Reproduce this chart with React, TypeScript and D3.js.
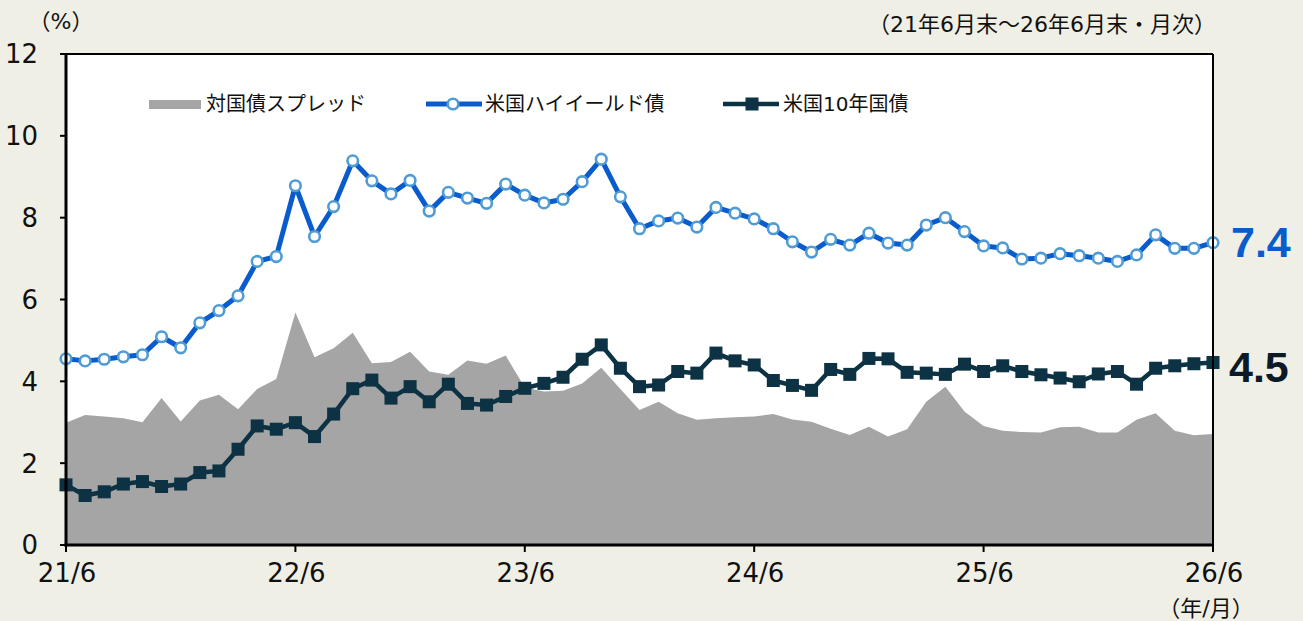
import React, { useEffect } from 'react';
import * as d3 from 'd3';

// monthly, 21/6 .. 26/6 (61 points)
const xTickLabels = ['21/6', '22/6', '23/6', '24/6', '25/6', '26/6'];
const yTicks = [0, 2, 4, 6, 8, 10, 12];

const highYield = [
  4.55, 4.50, 4.54, 4.60, 4.65, 5.09, 4.82, 5.43, 5.73, 6.09, 6.93, 7.05,
  8.78, 7.54, 8.27, 9.39, 8.90, 8.58, 8.91, 8.16, 8.62, 8.48, 8.35, 8.82,
  8.55, 8.36, 8.45, 8.88, 9.43, 8.51, 7.73, 7.92, 7.99, 7.77, 8.25, 8.11,
  7.97, 7.73, 7.41, 7.16, 7.47, 7.33, 7.62, 7.38, 7.33, 7.82, 8.00, 7.66,
  7.31, 7.26, 6.99, 7.01, 7.12, 7.07, 7.01, 6.93, 7.09, 7.58, 7.25, 7.25,
  7.39,
];

const treasury10y = [
  1.47, 1.21, 1.30, 1.49, 1.55, 1.43, 1.49, 1.77, 1.81, 2.34, 2.91, 2.83,
  2.99, 2.65, 3.20, 3.82, 4.03, 3.59, 3.87, 3.50, 3.93, 3.46, 3.42, 3.63,
  3.83, 3.95, 4.10, 4.54, 4.89, 4.32, 3.87, 3.91, 4.24, 4.20, 4.69, 4.50,
  4.40, 4.02, 3.90, 3.78, 4.29, 4.17, 4.56, 4.55, 4.22, 4.20, 4.17, 4.42,
  4.24, 4.38, 4.24, 4.16, 4.08, 3.99, 4.18, 4.24, 3.93, 4.32, 4.38, 4.43,
  4.46,
];

const spread = [
  2.99, 3.18, 3.14, 3.10, 3.00, 3.59, 3.02, 3.53, 3.67, 3.32, 3.81, 4.06,
  5.68, 4.59, 4.81, 5.19, 4.44, 4.47, 4.72, 4.24, 4.16, 4.51, 4.43, 4.63,
  3.85, 3.75, 3.77, 3.95, 4.33, 3.81, 3.30, 3.50, 3.22, 3.06, 3.10, 3.12,
  3.14, 3.20, 3.07, 3.01, 2.84, 2.69, 2.89, 2.65, 2.83, 3.50, 3.87, 3.26,
  2.91, 2.79, 2.76, 2.75, 2.88, 2.89, 2.75, 2.75, 3.06, 3.22, 2.79, 2.68,
  2.71,
];

const W = 1303;
const H = 621;
const BG = '#f0efe5';
const HY_LINE = '#0a5ccc';
const HY_MARK = '#4f9bd6';
const TSY = '#0c3244';
const GRAY = '#a5a5a5';
const FONT = '"DejaVu Sans", "Noto Sans CJK JP", sans-serif';

const App: React.FC = () => {
  useEffect(() => {
    document.body.style.margin = '0';
  }, []);

  const left = 66, right = 1213, top = 54, bottom = 545;
  const x = d3.scaleLinear().domain([0, 60]).range([left, right]);
  const y = d3.scaleLinear().domain([0, 12]).range([bottom, top]);

  const area = d3.area<number>()
    .x((d, i) => x(i))
    .y0(y(0))
    .y1(d => y(d));
  const line = d3.line<number>()
    .x((d, i) => x(i))
    .y(d => y(d));

  const sq = 13;

  return (
    <svg width={W} height={H} style={{ display: 'block', background: BG }} fontFamily={FONT}>
      <rect x={0} y={0} width={W} height={H} fill={BG} />
      <rect x={left} y={top} width={right - left} height={bottom - top} fill="#fff" />

      <path d={area(spread) || ''} fill={GRAY} />

      <path d={line(treasury10y) || ''} fill="none" stroke={TSY} strokeWidth={4.5} strokeLinejoin="round" />
      {treasury10y.map((d, i) => (
        <rect key={'t' + i} x={x(i) - sq / 2} y={y(d) - sq / 2} width={sq} height={sq} fill={TSY} />
      ))}

      <path d={line(highYield) || ''} fill="none" stroke={HY_LINE} strokeWidth={5} strokeLinejoin="round" />
      {highYield.map((d, i) => (
        <circle key={'h' + i} cx={x(i)} cy={y(d)} r={5.3} fill="#fff" stroke={HY_MARK} strokeWidth={2.6} />
      ))}

      {/* frame */}
      <line x1={left} x2={right} y1={top} y2={top} stroke="#000" strokeWidth={2} />
      <line x1={right} x2={right} y1={top} y2={bottom} stroke="#000" strokeWidth={2} />
      <line x1={left} x2={left} y1={top - 1} y2={bottom + 1.5} stroke="#000" strokeWidth={3} />
      <line x1={left - 1.5} x2={right + 1} y1={bottom} y2={bottom} stroke="#000" strokeWidth={3} />

      {yTicks.map(t => (
        <g key={'y' + t}>
          <line x1={left - 6} x2={left} y1={y(t)} y2={y(t)} stroke="#000" strokeWidth={2} />
          <text x={38} y={y(t)} dy="0.36em" textAnchor="end" fontSize={26} fill="#111">{t}</text>
        </g>
      ))}

      {xTickLabels.map((t, k) => (
        <g key={'x' + t}>
          <line x1={x(k * 12)} x2={x(k * 12)} y1={bottom} y2={bottom + 7} stroke="#000" strokeWidth={2} />
          <text x={x(k * 12) + 1} y={582} textAnchor="middle" fontSize={26} fill="#111">{t}</text>
        </g>
      ))}

      <text x={61} y={29} textAnchor="middle" fontSize={22} fill="#111">（%）</text>
      <text x={1216} y={32} textAnchor="end" fontSize={22} fill="#111">（21年6月末～26年6月末・月次）</text>
      <text x={1206} y={616} textAnchor="middle" fontSize={22} fill="#111">（年/月）</text>

      {/* legend */}
      <rect x={149} y={100} width={52} height={9} fill={GRAY} />
      <text x={206} y={104} dy="0.36em" fontSize={20} fill="#111">対国債スプレッド</text>

      <line x1={426} x2={482} y1={104} y2={104} stroke={HY_LINE} strokeWidth={5} />
      <circle cx={453} cy={104} r={5.3} fill="#fff" stroke={HY_MARK} strokeWidth={2.6} />
      <text x={485} y={104} dy="0.36em" fontSize={20} fill="#111">米国ハイイールド債</text>

      <line x1={723} x2={779} y1={104} y2={104} stroke={TSY} strokeWidth={4.5} />
      <rect x={752 - sq / 2} y={104 - sq / 2} width={sq} height={sq} fill={TSY} />
      <text x={783} y={104} dy="0.36em" fontSize={20} fill="#111">米国10年国債</text>

      {/* end values */}
      <text x={1231} y={257} fontSize={43} fontWeight="bold" fontFamily='"Liberation Sans", Arial, sans-serif' fill="#0a5ccc">
        {highYield[highYield.length - 1].toFixed(1)}
      </text>
      <text x={1229} y={382} fontSize={43} fontWeight="bold" fontFamily='"Liberation Sans", Arial, sans-serif' fill="#0b1a26">
        {treasury10y[treasury10y.length - 1].toFixed(1)}
      </text>
    </svg>
  );
};

export default App;
